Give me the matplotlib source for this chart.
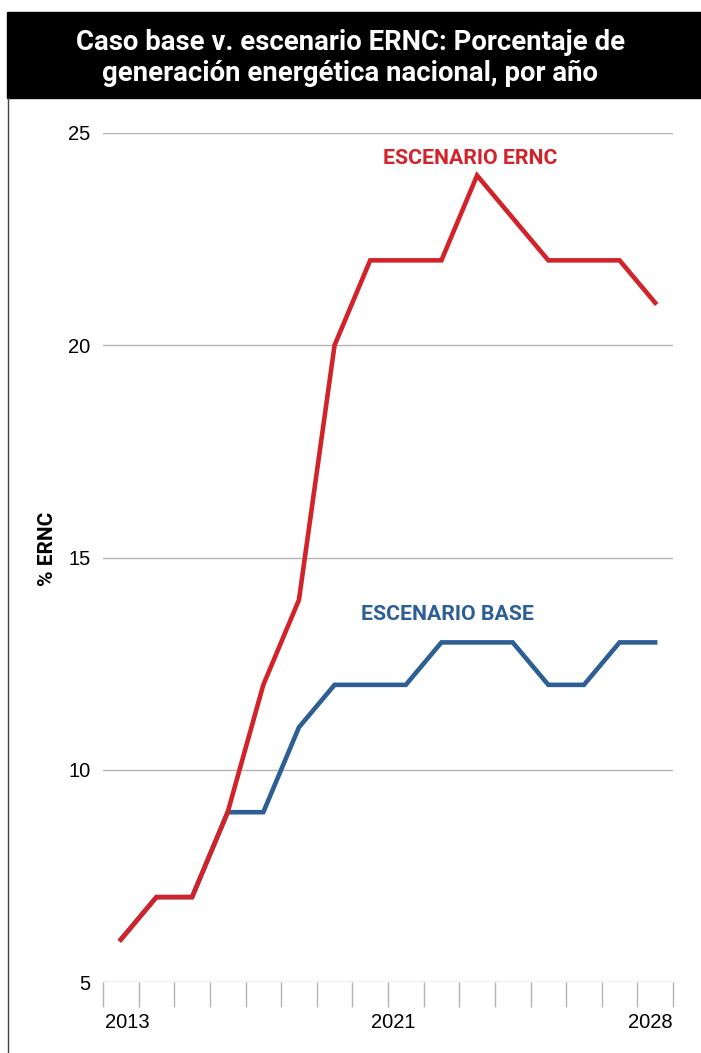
import numpy as np
import matplotlib.pyplot as plt
import matplotlib.patches as mpatches

years = list(range(2013, 2029))
ernc = [6, 7, 7, 9, 12, 14, 20, 22, 22, 22, 24, 23, 22, 22, 22, 21]
base = [6, 7, 7, 9, 9, 11, 12, 12, 12, 13, 13, 13, 12, 12, 13, 13]
yticks = [5, 10, 15, 20, 25]
xlabels = {2013: "2013", 2021: "2021", 2028: "2028"}

red = "#d2232a"
blue = "#2d5f94"
grey = "#b3b3b3"
cond = ["Roboto", "DejaVu Sans"]

fig = plt.figure(figsize=(7.01, 10.53), dpi=100)

# caja del titulo
fig.patches.append(mpatches.Rectangle((7 / 701, 1 - 98 / 1053), 1, 86 / 1053,
                                      transform=fig.transFigure, color="black", zorder=0))
fig.text(0.5, 1 - 58 / 1053,
         "Caso base v. escenario ERNC: Porcentaje de\ngeneración energética nacional, por año",
         ha="center", va="center", color="white", fontsize=19.8, fontweight="bold",
         family=cond, linespacing=1.15)
# borde izquierdo
fig.add_artist(plt.Line2D([7.5 / 701, 7.5 / 701], [0, 1 - 98 / 1053],
                          transform=fig.transFigure, color="#444444", lw=1))

ax = fig.add_axes([103 / 701, 1 - 982 / 1053, 570 / 701, 849 / 1053])
x = np.arange(len(years))

for y in yticks:
    ax.axhline(y, color=grey, lw=1, zorder=1)

ax.plot(x, base, color=blue, lw=3.3, zorder=3, solid_joinstyle="miter")
ax.plot(x, ernc, color=red, lw=3.3, zorder=4, solid_joinstyle="miter")

ax.set_xlim(-0.5, len(years) - 0.5)
ax.set_ylim(5, 25)
for s in ax.spines.values():
    s.set_visible(False)

ax.set_yticks(yticks)
ax.set_yticklabels([str(v) for v in yticks], fontsize=14.5, family="Liberation Sans")
ax.tick_params(axis="y", length=0, pad=9)

ax.set_xticks(np.arange(len(years) + 1) - 0.5)
ax.set_xticklabels([])
ax.tick_params(axis="x", length=18, color=grey, width=1)

for yr, lab in xlabels.items():
    i = years.index(yr)
    ha = "center"
    xp = i - 0.35
    if i == 0:
        ha, xp = "left", -0.43
    elif i == len(years) - 1:
        ha, xp = "right", len(years) - 0.5
    ax.text(xp, 4.05, lab, ha=ha, va="center", fontsize=14.5, family="Liberation Sans",
            transform=ax.transData, clip_on=False)

ax.set_ylabel("% ERNC", fontsize=15, fontweight="bold", family=cond)
ax.yaxis.set_label_coords(-0.08, 0.51)

ax.text(9.8, 24.4, "ESCENARIO ERNC", color=red, fontsize=15.3, fontweight="bold",
        family=cond, ha="center", va="center")
ax.text(9.18, 13.65, "ESCENARIO BASE", color=blue, fontsize=15.3, fontweight="bold",
        family=cond, ha="center", va="center")

fig.savefig("out.png", dpi=100)
